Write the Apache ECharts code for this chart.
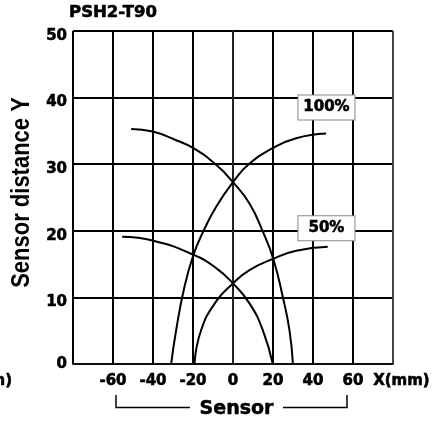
<!DOCTYPE html>
<html><head><meta charset="utf-8">
<script src="https://cdn.jsdelivr.net/npm/echarts@6/dist/echarts.min.js"></script>
<style>html,body{margin:0;padding:0;background:#fff}#c{width:433px;height:423px}</style>
</head><body><div id="c"></div>
<script>
// ---- data ----
const chartTitle = 'PSH2-T90';
const yAxisTitle = 'Sensor distance Y';
const xAxisUnit = 'X(mm)';
const bracketTitle = 'Sensor';
const clippedText = 'Y(mm)';
const xMin = -80, xMax = 80, xStep = 20;
const yMin = 0, yMax = 50, yStep = 10;

// 100% detection curves [x(mm), y(mm)]
const curve100Left = [[-50.9,35.3],[-40.1,34.9],[-28.4,33.6],[-19.75,32.4],[-8.4,29.9],[0,27.3],[8.25,24.1],[14.9,19.9],[20.25,15.7],[24.9,10.1],[28.25,5.1],[30,0]];
const curve100Right = [[-30.9,0],[-28.4,5.1],[-24.25,11.6],[-19.75,16.4],[-15,19.8],[-8.4,23.6],[0,27.3],[8.25,30.1],[19.9,32.4],[31.6,33.9],[46.6,34.6]];
// 50% detection curves
const curve50Left = [[-55.4,19.1],[-39.75,18.5],[-19.75,16.4],[-8.4,14.4],[0,12.1],[8.25,9.1],[14.9,5.1],[19.9,0]];
const curve50Right = [[-19.25,0],[-15.9,5.1],[-8.4,9.4],[0,12.1],[8.25,14.1],[20.25,15.8],[31.6,17.0],[47.4,17.6]];

const levelLabels = ['100%', '50%'];
const levelLabelPos = [[46.75, 38.5], [46.75, 20.4]];

// ---- chart ----
const F = 'DejaVu Sans';
const heavy = {textBorderColor: '#000', textBorderWidth: 0.6};
const chart = echarts.init(document.getElementById('c'), null, {renderer: 'canvas'});

function curve(data) {
  return {
    type: 'line', data: data, showSymbol: false, smooth: 0.5, silent: true,
    lineStyle: {color: '#000', width: 2}, z: 3
  };
}

const option = {
  animation: false,
  backgroundColor: '#fff',
  grid: {left: 73, right: 40, top: 31, bottom: 59, containLabel: false},
  xAxis: {
    type: 'value', min: xMin, max: xMax, interval: xStep,
    axisLine: {show: true, onZero: false, lineStyle: {color: '#111', width: 2}},
    axisTick: {show: false},
    splitLine: {show: true, lineStyle: {color: ['#000','#000','#000','#000','#000','#000','#000','#000','#444'], width: 2}},
    axisLabel: Object.assign({
      margin: 10, color: '#000', fontFamily: F, fontWeight: 'bold', fontSize: 15,
      formatter: function (v) {
        if (v === xMin) return '';
        if (v === xMax) return '{u|' + xAxisUnit + '}';
        return String(v);
      },
      rich: {u: Object.assign({fontFamily: F, fontWeight: 'bold', fontSize: 15, color: '#000', padding: [0, 0, 0, 17]}, heavy)}
    }, heavy)
  },
  yAxis: {
    type: 'value', min: yMin, max: yMax, interval: yStep,
    axisLine: {show: true, lineStyle: {color: '#222', width: 2}},
    axisTick: {show: false},
    splitLine: {show: true, lineStyle: {color: '#000', width: 2}},
    axisLabel: Object.assign({
      margin: 6, color: '#000', fontFamily: F, fontWeight: 'bold', fontSize: 15,
      formatter: function (v) { return v === 0 ? '{z|0}' : '{s|' + v + '}'; },
      rich: {
        z: Object.assign({fontFamily: F, fontWeight: 'bold', fontSize: 15, color: '#000'}, heavy),
        s: Object.assign({fontFamily: F, fontWeight: 'bold', fontSize: 15, color: '#000', padding: [10, 0, 0, 0]}, heavy)
      }
    }, heavy)
  },
  series: [
    curve(curve100Left), curve(curve100Right), curve(curve50Left), curve(curve50Right),
    {
      type: 'scatter', symbolSize: 0, silent: true, z: 5,
      itemStyle: {opacity: 1},
      data: levelLabelPos.map(function (p, i) { return {value: p, name: levelLabels[i]}; }),
      label: Object.assign({
        show: true, position: 'inside', formatter: function (p) { return p.name; },
        fontFamily: F, fontWeight: 'bold', fontSize: 15, color: '#000',
        backgroundColor: '#fff', borderColor: '#888', borderWidth: 1,
        padding: [4, 5, 4, 5], width: 46, align: 'center', lineHeight: 16
      }, heavy)
    }
  ],
  graphic: [
    {type: 'text', x: 113, y: 13, style: {text: chartTitle, fontFamily: F, fontWeight: 'bold', fontSize: 16.5, fill: '#000', align: 'center', verticalAlign: 'middle', stroke: '#000', lineWidth: 0.6}},
    {type: 'text', x: 21.5, y: 192.5, rotation: Math.PI / 2, scaleY: 1.2,
      style: {text: yAxisTitle, fontFamily: 'Liberation Sans', fontWeight: 'bold', fontSize: 22, fill: '#000', align: 'center', verticalAlign: 'middle'}},
    {type: 'text', x: 12, y: 381, style: {text: clippedText, fontFamily: F, fontWeight: 'bold', fontSize: 15, fill: '#000', align: 'right', verticalAlign: 'middle', stroke: '#000', lineWidth: 0.6}},
    {type: 'text', x: 236.5, y: 409, style: {text: bracketTitle, fontFamily: F, fontWeight: 'bold', fontSize: 19, fill: '#000', align: 'center', verticalAlign: 'middle', stroke: '#000', lineWidth: 0.5}},
    {type: 'polyline', shape: {points: [[116, 395], [116, 407.5], [190, 407.5]]}, style: {stroke: '#000', lineWidth: 1.5, fill: null}},
    {type: 'polyline', shape: {points: [[283, 407.5], [347, 407.5], [347, 395]]}, style: {stroke: '#000', lineWidth: 1.5, fill: null}}
  ]
};
chart.setOption(option);
</script>
</body></html>
